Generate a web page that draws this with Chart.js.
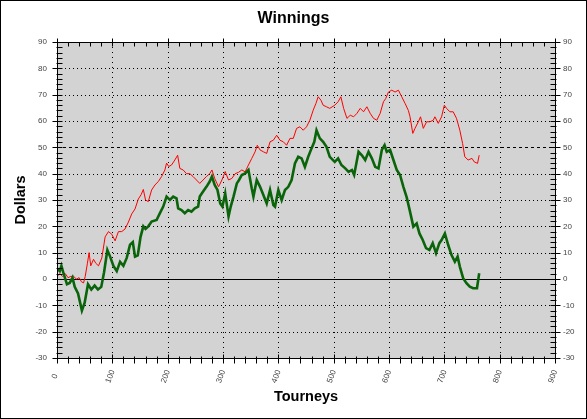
<!DOCTYPE html>
<html>
<head>
<meta charset="utf-8">
<title>Winnings</title>
<script src="https://cdn.jsdelivr.net/npm/chart.js@4.4.1/dist/chart.umd.min.js"></script>
<style>
  html, body { margin: 0; padding: 0; background: #fff; }
  canvas { display: block; }
</style>
</head>
<body>
<canvas id="myChart" width="587" height="419"></canvas>
<script>
// values
const greenTourneys = [
  0, 5, 8, 12, 18, 23, 28, 32, 38, 45, 50, 56, 62, 68, 74, 80, 85, 91, 96, 102,
  108, 114, 120, 126, 132, 137, 141, 146, 151, 156, 160, 165, 171, 180, 186, 192, 198, 204, 210, 216,
  219, 225, 231, 237, 243, 249, 255, 258, 264, 270, 276, 280, 285, 290, 295, 299, 304, 310, 314, 319,
  325, 329, 334, 340, 346, 352, 355, 361, 367, 373, 379, 385, 391, 394, 400, 406, 412, 418, 424, 430,
  436, 442, 448, 454, 460, 465, 469, 475, 481, 487, 493, 502, 508, 514, 521, 527, 533, 537, 545, 551,
  557, 563, 569, 575, 581, 587, 592, 596, 602, 608, 614, 620, 626, 632, 638, 644, 650, 655, 661, 667,
  673, 679, 685, 691, 695, 701, 707, 713, 719, 724, 728, 734, 740, 746, 752, 759, 763
];
const greenDollars = [
  4, 3, 5, 2, -2, -1.5, 0.5, -3, -5.5, -12, -9, -2, -4, -2.5, -4, -3, 2.5, 11, 8.5, 5,
  3, 6.5, 5, 8, 13, 14, 8.5, 9, 16, 20, 19, 20, 21.8, 22.4, 25, 27.5, 31.3, 30, 31.3, 30.6,
  26.8, 26.2, 25, 26.2, 25.6, 26.8, 27.5, 31.3, 33.2, 35, 37, 38.9, 35.7, 33.8, 28.7, 27.5, 32.5, 23.7, 27.5, 31.3,
  36.3, 37.6, 39.5, 40.1, 41.4, 34.4, 31.3, 37.6, 35, 31.9, 28.7, 33.8, 28.1, 27.5, 33.8, 30, 33.8, 35, 37.6, 43.9,
  46.4, 45.8, 42.6, 46.4, 49.6, 52.1, 56.5, 53.4, 52.1, 50.2, 46.4, 44.5, 45.8, 43.3, 42, 40.7, 41.4, 39.5, 48.3, 47,
  45.2, 48.3, 45.8, 42.6, 42, 49, 50.8, 48.3, 49, 45.2, 41.4, 39.5, 35, 31, 25.6, 19.9, 21.1, 17.3, 14.8, 11.7,
  11, 13.6, 9.8, 13.6, 14.8, 17.3, 12.9, 9.1, 6.6, 8.5, 4.7, 0.3, -1.6, -2.9, -3.5, -3.5, 2.2
];

const redTourneys = [
  0, 5, 10, 15, 20, 25, 30, 35, 40, 44, 48, 51, 55, 58, 61, 66, 70, 75, 81, 87,
  93, 99, 105, 111, 117, 123, 129, 135, 141, 147, 152, 156, 160, 165, 171, 177, 183, 189, 195, 198,
  202, 207, 213, 218, 222, 228, 234, 240, 246, 252, 258, 264, 270, 276, 280, 285, 292, 298, 304, 310,
  316, 322, 328, 334, 340, 346, 352, 358, 362, 367, 373, 379, 385, 391, 397, 403, 409, 415, 421, 427,
  433, 439, 445, 451, 457, 463, 468, 472, 477, 481, 487, 493, 502, 508, 513, 518, 524, 530, 536, 542,
  548, 554, 560, 566, 572, 578, 584, 590, 594, 599, 605, 611, 617, 623, 629, 635, 638, 643, 647, 653,
  657, 662, 668, 674, 680, 683, 689, 695, 700, 704, 710, 716, 722, 728, 733, 737, 743, 750, 754, 760, 763
];
const redDollars = [
  1, 2, 1, 2, 0.5, 1, 1, 0, 0.5, -1, -1.5, 1, 6, 10, 5, 7.5, 6, 5, 8, 16,
  18, 17, 14.5, 18, 18, 19, 21.6, 24.7, 26.6, 30.4, 32, 34, 30, 29.4, 33.8, 35.7, 37, 38.9, 41.4, 44,
  42.7, 43.3, 45.2, 47, 42, 41.4, 40, 40, 38.9, 37.6, 36.3, 37.6, 38.9, 40, 41.4, 38.2, 35, 37.6, 40.8, 37.6,
  38.2, 40, 40.5, 41.4, 40.7, 43.3, 45.8, 48.3, 50.8, 49, 48.3, 47.7, 52.1, 52.7, 54.6, 52.7, 52.1, 50.8, 53.4, 53.4,
  57.2, 57.8, 56.5, 57.8, 60.3, 64.1, 66.7, 69.2, 67.9, 66, 65.4, 64.8, 66, 67.3, 69.2, 64.8, 61, 62.2, 61.6, 62.9,
  64.8, 63.5, 65.4, 62.9, 61, 60.3, 62.9, 67.3, 68.5, 71, 71.7, 71, 71.7, 69.2, 66.7, 64, 61.6, 55.3, 57.2, 59.7,
  61.6, 57.2, 59.7, 59.7, 60.3, 61.6, 59.1, 61.6, 66, 64.8, 63.5, 63.5, 61, 56.5, 51.5, 46.4, 45.2, 45.8, 44.5, 43.9, 47
];

const xTickValues = [0, 100, 200, 300, 400, 500, 600, 700, 800, 900];
const xTickLabels = ["0", "100", "200", "300", "400", "500", "600", "700", "800", "900"];

const FONT = "'Liberation Sans', Arial, sans-serif";

const toPoints = (xs, ys) => xs.map((x, i) => ({ x: x, y: ys[i] }));

// grey plot, dotted grid, frame, inner/outer tick marks, slanted x labels
const plotDecor = {
  id: "plotDecor",
  beforeDraw(chart) {
    const { ctx, width, height } = chart;
    ctx.save();
    ctx.fillStyle = "#fff";
    ctx.fillRect(0, 0, width, height);
    ctx.strokeStyle = "#000";
    ctx.lineWidth = 1;
    ctx.strokeRect(0.5, 0.5, width - 1, height - 1);
    ctx.restore();
  },
  beforeDatasetsDraw(chart) {
    const { ctx, chartArea: a, scales: { x, y } } = chart;
    const L = Math.round(a.left), R = Math.round(a.right);
    const T = Math.round(a.top), B = Math.round(a.bottom);
    ctx.save();
    ctx.fillStyle = "#d3d3d3";
    ctx.fillRect(L, T, R - L, B - T);
    ctx.strokeStyle = "#000";
    ctx.lineWidth = 1;

    y.ticks.forEach(t => {
      if (t.value <= y.min || t.value >= y.max) return;
      const py = Math.round(y.getPixelForValue(t.value)) + 0.5;
      ctx.setLineDash(t.value === 0 ? [] : t.value === 50 ? [3, 3] : [1, 3]);
      ctx.beginPath();
      ctx.moveTo(L, py);
      ctx.lineTo(R, py);
      ctx.stroke();
    });

    ctx.setLineDash([1, 4]);
    xTickValues.forEach(v => {
      if (v <= x.min || v >= x.max) return;
      const px = Math.round(x.getPixelForValue(v)) + 0.5;
      ctx.beginPath();
      ctx.moveTo(px, T);
      ctx.lineTo(px, B);
      ctx.stroke();
    });
    ctx.restore();
  },
  afterDatasetsDraw(chart) {
    const { ctx, chartArea: a, scales: { x, y } } = chart;
    const L = Math.round(a.left) + 0.5, R = Math.round(a.right) + 0.5;
    const T = Math.round(a.top) + 0.5, B = Math.round(a.bottom) + 0.5;
    ctx.save();
    ctx.strokeStyle = "#000";
    ctx.lineWidth = 1;
    ctx.setLineDash([]);
    ctx.strokeRect(L, T, R - L, B - T);

    const line = (x1, y1, x2, y2) => {
      ctx.beginPath();
      ctx.moveTo(x1, y1);
      ctx.lineTo(x2, y2);
      ctx.stroke();
    };

    // y ticks: major every 10, minor every 2
    for (let v = y.min; v <= y.max; v += 2) {
      const py = Math.round(y.getPixelForValue(v)) + 0.5;
      const major = v % 10 === 0;
      line(L - (major ? 5 : 1), py, L + 5, py);
      line(R - 5, py, R + (major ? 5 : 1), py);
    }
    // x ticks: major every 100, minor every 20
    for (let v = x.min; v <= x.max; v += 20) {
      const px = Math.round(x.getPixelForValue(v)) + 0.5;
      const major = v % 100 === 0;
      line(px, B - (major ? 4 : 2), px, B + 5);
      line(px, T + 4, px, T - (major ? 4 : 0));
    }

    // slanted x labels
    ctx.fillStyle = "#444";
    ctx.font = "8px " + FONT;
    ctx.textAlign = "center";
    ctx.textBaseline = "middle";
    xTickLabels.forEach((lab, i) => {
      const px = x.getPixelForValue(xTickValues[i]);
      ctx.save();
      ctx.translate(px - 2, B + 18);
      ctx.rotate(-70 * Math.PI / 180);
      ctx.fillText(lab, 0, 0);
      ctx.restore();
    });
    ctx.restore();
  }
};

const ctx = document.getElementById("myChart").getContext("2d");

new Chart(ctx, {
  type: "line",
  data: {
    datasets: [
      {
        label: "Green",
        data: toPoints(greenTourneys, greenDollars),
        borderColor: "#0a640a",
        borderWidth: 2.6,
        pointRadius: 0,
        tension: 0,
        fill: false
      },
      {
        label: "Red",
        data: toPoints(redTourneys, redDollars),
        borderColor: "#ff0000",
        borderWidth: 1,
        pointRadius: 0,
        tension: 0,
        fill: false
      }
    ]
  },
  options: {
    responsive: false,
    animation: false,
    layout: { padding: 0 },
    plugins: {
      legend: { display: false },
      tooltip: { enabled: false },
      title: {
        display: true,
        text: "Winnings",
        color: "#000",
        font: { family: FONT, size: 16, weight: "bold" },
        padding: { top: 9, bottom: 13.8 }
      }
    },
    scales: {
      x: {
        type: "linear",
        min: 0,
        max: 900,
        ticks: { stepSize: 100, display: false },
        grid: { display: false },
        border: { display: false },
        title: {
          display: true,
          text: "Tourneys",
          color: "#000",
          font: { family: FONT, size: 14.5, weight: "bold" },
          padding: { top: 0, bottom: 13 }
        },
        afterFit: s => { s.height = 61; }
      },
      y: {
        position: "left",
        min: -30,
        max: 90,
        ticks: {
          stepSize: 10,
          color: "#444",
          padding: 10,
          font: { family: FONT, size: 8 }
        },
        grid: { display: false, drawTicks: false },
        border: { display: false },
        title: {
          display: true,
          text: "Dollars",
          color: "#000",
          font: { family: FONT, size: 14.5, weight: "bold" },
          padding: { top: 12, bottom: 0 }
        },
        afterFit: s => { s.width = 57; }
      },
      y2: {
        position: "right",
        min: -30,
        max: 90,
        ticks: {
          stepSize: 10,
          color: "#444",
          padding: 8,
          font: { family: FONT, size: 8 }
        },
        grid: { display: false, drawTicks: false },
        border: { display: false },
        afterFit: s => { s.width = 32; }
      }
    }
  },
  plugins: [plotDecor]
});
</script>
</body>
</html>
